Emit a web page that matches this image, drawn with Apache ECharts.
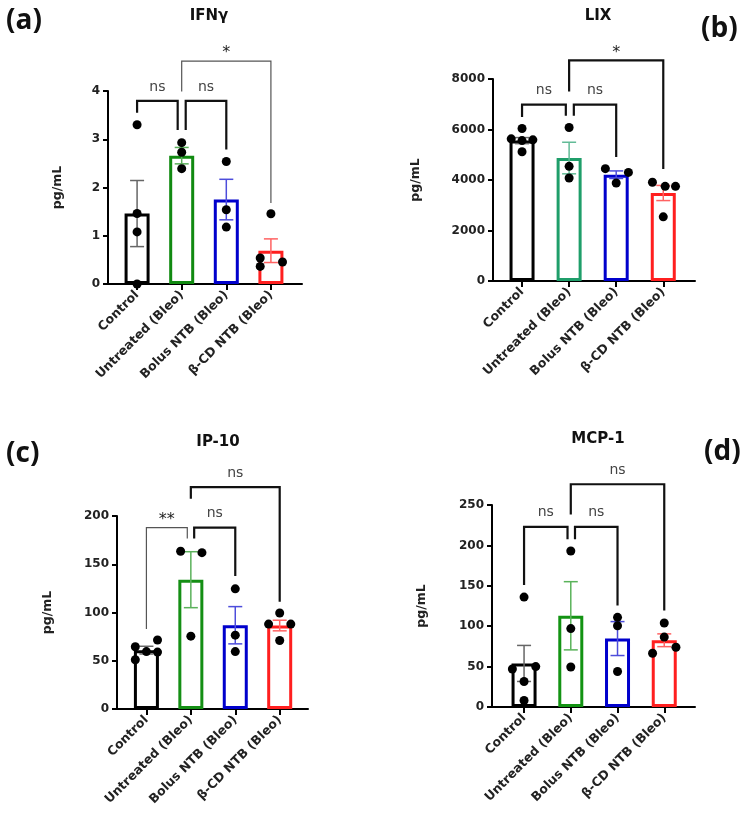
<!DOCTYPE html>
<html><head><meta charset="utf-8">
<script src="https://cdn.jsdelivr.net/npm/echarts@6/dist/echarts.min.js"></script>
<style>html,body{margin:0;padding:0;background:#fff}#c{width:743px;height:821px}</style>
</head><body><div id="c"></div><script>
// ---------- data ----------
const groups = ['Control', 'Untreated (Bleo)', 'Bolus NTB (Bleo)', 'β-CD NTB (Bleo)'];

// IFNγ
const ifnTicks = [0, 1, 2, 3, 4];
const ifnMean = [1.46, 2.66, 1.75, 0.69];
const ifnSem = [0.685, 0.17, 0.42, 0.245];
const ifnPoints = [[3.30, 1.46, 1.08, 0.0], [2.93, 2.73, 2.39], [2.54, 1.54, 1.18], [1.455, 0.54, 0.365, 0.455]];
const ifnJitter = [[0, 0, 0, 0], [0, 0, 0], [0, 0, 0], [0, -0.24, -0.24, 0.26]];
const ifnBrackets = [[0, 3.55, 0.91, 3.19, 3.795, 'ns'], [1.09, 3.19, 2, 2.79, 3.795, 'ns'], [1, 3.99, 3, 1.68, 4.62, '*']];

// LIX
const lixTicks = [0, 2000, 4000, 6000, 8000];
const lixMean = [5560, 4870, 4210, 3485];
const lixSem = [120, 625, 150, 300];
const lixPoints = [[6040, 5630, 5560, 5590, 5120], [6080, 4540, 4080], [4450, 4300, 3880], [3910, 3750, 3750, 2540]];
const lixJitter = [[0, -0.23, 0, 0.23, 0], [0, 0, 0], [-0.23, 0.26, 0], [-0.23, 0.04, 0.26, 0]];
const lixBrackets = [[0, 6495, 0.93, 6547, 6982, 'ns'], [1.1, 6547, 2, 4911, 6982, 'ns'], [1, 7509, 3, 4436, 8737, '*']];

// IP-10
const ipTicks = [0, 50, 100, 150, 200];
const ipMean = [61, 134, 86.8, 86.5];
const ipSem = [4, 29, 19.3, 5.5];
const ipPoints = [[64.5, 51, 59.5, 71.5, 59], [163.5, 162, 75.5], [124.5, 76.5, 59.5], [99.5, 88, 88, 71]];
const ipJitter = [[-0.25, -0.25, 0, 0.25, 0.25], [-0.23, 0.25, 0], [0, 0, 0], [0, -0.25, 0.25, 0]];
const ipBrackets = [[0, 82.9, 0.92, 176.6, 188, '**'], [1.075, 176.6, 2, 137.7, 188, 'ns'], [1, 218, 3, 111.2, 230, 'ns']];

// MCP-1
const mcpTicks = [0, 50, 100, 150, 200, 250];
const mcpMean = [53.9, 112.9, 84.7, 82.6];
const mcpSem = [22.3, 42.2, 21, 7.9];
const mcpPoints = [[136, 47, 50, 31.5, 8], [193, 97, 49.5], [111, 100.5, 44], [104, 86.5, 66.5, 74]];
const mcpJitter = [[0, -0.25, 0.25, 0, 0], [0, 0, 0], [0, 0, 0], [0, 0, -0.25, 0.25]];
const mcpBrackets = [[0, 151, 0.93, 207.5, 223, 'ns'], [1.09, 207.5, 2, 125.5, 223, 'ns'], [1, 238.3, 3, 119.3, 275.7, 'ns']];

// ---------- layout / style ----------
const FONT = 'DejaVu Sans';
const panels = [
  {title: 'IFNγ', tag: '(a)', ticks: ifnTicks, mean: ifnMean, sem: ifnSem, pts: ifnPoints, jit: ifnJitter, br: ifnBrackets,
   grid: {left: 108, top: 91, width: 194, height: 193}, xMin: -0.652, xMax: 3.697, nameGap: 44,
   colors: ['#000000', '#118a11', '#0000cc', '#ff1f1f'], thin: [2],
   titlePos: [204, 4], tagPos: [1, 2]},
  {title: 'LIX', tag: '(b)', ticks: lixTicks, mean: lixMean, sem: lixSem, pts: lixPoints, jit: lixJitter, br: lixBrackets,
   grid: {left: 493, top: 79, width: 202, height: 202}, xMin: -0.617, xMax: 3.674, nameGap: 71,
   colors: ['#000000', '#1f9e6a', '#0000cc', '#ff1f1f'], thin: [],
   titlePos: [593, 4], tagPos: [696, 10]},
  {title: 'IP-10', tag: '(c)', ticks: ipTicks, mean: ipMean, sem: ipSem, pts: ipPoints, jit: ipJitter, br: ipBrackets,
   grid: {left: 117, top: 516, width: 191, height: 193}, xMin: -0.662, xMax: 3.637, nameGap: 63,
   colors: ['#000000', '#148f14', '#0000cc', '#ff1f1f'], thin: [0],
   titlePos: [213, 430], tagPos: [1, 435]},
  {title: 'MCP-1', tag: '(d)', ticks: mcpTicks, mean: mcpMean, sem: mcpSem, pts: mcpPoints, jit: mcpJitter, br: mcpBrackets,
   grid: {left: 492, top: 505, width: 203, height: 202}, xMin: -0.686, xMax: 3.658, nameGap: 64,
   colors: ['#000000', '#139313', '#0000cc', '#ff1f1f'], thin: [],
   titlePos: [593, 427], tagPos: [699, 433]}
];

function lighten(c) {
  if (c === '#000000') return '#666666';
  const r = parseInt(c.substr(1, 2), 16), g = parseInt(c.substr(3, 2), 16), b = parseInt(c.substr(5, 2), 16);
  const f = v => Math.round(v + (255 - v) * 0.3);
  return 'rgb(' + f(r) + ',' + f(g) + ',' + f(b) + ')';
}

const option = {
  backgroundColor: '#ffffff',
  animation: false,
  title: [], grid: [], xAxis: [], yAxis: [], series: []
};

panels.forEach((p, i) => {
  option.title.push({text: p.title, left: p.titlePos[0], top: p.titlePos[1], textAlign: 'center',
    textStyle: {fontFamily: FONT, fontWeight: 'bold', fontSize: 15, color: '#111'}});
  option.title.push({text: p.tag, left: p.tagPos[0], top: p.tagPos[1],
    textStyle: {fontFamily: 'Open Sans', fontWeight: 'bold', fontSize: 28, color: '#111'}});
  option.grid.push(Object.assign({containLabel: false}, p.grid));
  option.xAxis.push({
    type: 'value', gridIndex: i, min: p.xMin, max: p.xMax,
    axisLine: {show: true, onZero: false, lineStyle: {color: '#000', width: 2}},
    axisTick: {show: true, customValues: [0, 1, 2, 3], length: 6, lineStyle: {color: '#000', width: 2}},
    axisLabel: {customValues: [0, 1, 2, 3], formatter: v => groups[Math.round(v)] || '', rotate: 45, margin: 9,
      fontFamily: FONT, fontWeight: 'bold', fontSize: 12.5, color: '#222'},
    splitLine: {show: false}
  });
  const t = p.ticks;
  option.yAxis.push({
    type: 'value', gridIndex: i, min: t[0], max: t[t.length - 1], interval: t[1] - t[0],
    name: 'pg/mL', nameLocation: 'middle', nameGap: p.nameGap,
    nameTextStyle: {fontFamily: FONT, fontWeight: 'bold', fontSize: 12.5, color: '#222'},
    axisLine: {show: true, onZero: false, lineStyle: {color: '#000', width: 2}},
    axisTick: {show: true, length: 5, lineStyle: {color: '#000', width: 2}},
    axisLabel: {fontFamily: FONT, fontWeight: 'bold', fontSize: 12, color: '#222', margin: 8,
      formatter: v => String(v)},
    splitLine: {show: false}
  });
  // bars
  option.series.push({
    type: 'bar', xAxisIndex: i, yAxisIndex: i, barWidth: 25, z: 2,
    data: p.mean.map((m, k) => ({value: [k, m], itemStyle: {color: 'rgba(255,255,255,0)', borderColor: p.colors[k], borderWidth: 3}}))
  });
  // error bars
  const errCols = p.colors.map(lighten);
  option.series.push({
    type: 'custom', xAxisIndex: i, yAxisIndex: i, z: 3,
    data: p.mean.map((m, k) => [k, m - p.sem[k], m + p.sem[k]]),
    encode: {x: 0, y: [1, 2]},
    renderItem: (params, api) => {
      const x = api.value(0);
      const lo = api.coord([x, api.value(1)]), hi = api.coord([x, api.value(2)]);
      const st = {stroke: errCols[params.dataIndex], lineWidth: 1.5};
      const h = 7;
      return {type: 'group', children: [
        {type: 'line', shape: {x1: lo[0], y1: lo[1], x2: hi[0], y2: hi[1]}, style: st},
        {type: 'line', shape: {x1: lo[0] - h, y1: lo[1], x2: lo[0] + h, y2: lo[1]}, style: st},
        {type: 'line', shape: {x1: hi[0] - h, y1: hi[1], x2: hi[0] + h, y2: hi[1]}, style: st}
      ]};
    }
  });
  // points
  const pts = [];
  p.pts.forEach((arr, k) => arr.forEach((v, j) => pts.push([k + p.jit[k][j], v])));
  option.series.push({
    type: 'scatter', xAxisIndex: i, yAxisIndex: i, z: 4, symbolSize: 9,
    itemStyle: {color: '#000', opacity: 1}, data: pts
  });
  // significance brackets
  option.series.push({
    type: 'custom', xAxisIndex: i, yAxisIndex: i, z: 5, clip: false,
    data: p.br.map(b => [b[0], b[1], b[2], b[3], b[4]]),
    encode: {x: [0, 2], y: [1, 3, 4]},
    renderItem: (params, api) => {
      const b = p.br[params.dataIndex];
      const a1 = api.coord([b[0], b[1]]), a2 = api.coord([b[0], b[4]]);
      const c1 = api.coord([b[2], b[4]]), c2 = api.coord([b[2], b[3]]);
      const thin = p.thin.indexOf(params.dataIndex) >= 0;
      const isStar = b[5].indexOf('*') >= 0;
      return {type: 'group', children: [
        {type: 'polyline', shape: {points: [a1, a2, c1, c2]},
         style: {stroke: thin ? '#555' : '#111', lineWidth: thin ? 1.2 : 2.2, fill: null, lineJoin: 'miter'}},
        {type: 'text', x: (a2[0] + c1[0]) / 2, y: a2[1] - (isStar ? 0 : 7),
         style: {text: b[5], align: 'center', verticalAlign: 'bottom', fontFamily: FONT,
                 fontSize: isStar ? 16 : 14, fill: isStar ? '#222' : '#444'}}
      ]};
    }
  });
});

const chart = echarts.init(document.getElementById('c'), null, {renderer: 'canvas'});
chart.setOption(option);
</script></body></html>
